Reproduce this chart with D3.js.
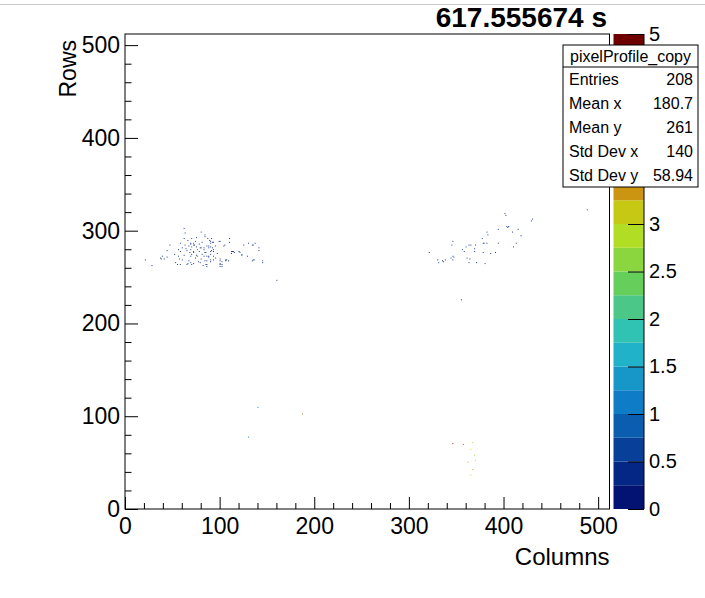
<!DOCTYPE html>
<html>
<head>
<meta charset="utf-8">
<script src="https://cdn.jsdelivr.net/npm/d3@7"></script>
<style>
  body { margin: 0; background: #fff; }
  text { font-family: "Liberation Sans", Arial, Helvetica, sans-serif; }
</style>
</head>
<body>
<svg id="chart" width="705" height="598"></svg>
<script>
// hits as [column, row, content]
const leftCluster = [
  [62,302,0.4],[63,297,0.4],[80,298,0.4],[84,295,0.7],[84,293,0.4],[47,284,0.4],[44,278,0.4],[39,272,0.4],
  [38,269,0.4],[41,269,0.4],[21,268,0.4],[28,262,0.4],[53,265,0.4],[56,272,0.7],[57,269,0.4],[58,263,0.4],
  [62,291,0.4],[58,277,0.4],[63,284,0.7],[67,283,0.4],[69,286,0.4],[72,286,0.7],[73,284,0.4],[69,279,0.4],
  [72,276,0.4],[76,279,0.7],[79,281,0.4],[83,279,0.4],[86,283,0.4],[70,274,0.4],[76,272,0.7],[81,274,0.4],
  [84,276,0.4],[90,277,0.4],[67,267,0.4],[69,265,0.7],[72,264,0.4],[79,265,0.4],[84,267,0.4],[90,268,0.4],
  [89,289,0.4],[91,291,0.4],[90,286,0.7],[93,287,0.4],[95,283,0.4],[93,279,0.4],[93,277,0.4],[90,274,0.4],
  [100,288,0.4],[105,284,0.4],[110,291,0.4],[110,287,0.4],[100,269,0.4],[100,267,0.4],[106,268,0.4],[109,267,0.4],
  [100,263,0.4],[102,261,0.4],[113,277,0.4],[115,276,0.4],[121,276,0.4],[123,274,0.4],[125,284,0.4],[130,286,0.4],
  [129,272,0.4],[135,284,0.4],[137,286,0.4],[141,281,0.4],[141,278,0.4],[134,267,0.4],[135,268,0.4],[145,267,0.7],
  [70,291,0.4],[69,285,0.4],[72,284,0.4],[70,282,0.7],[75,282,0.4],[80,281,0.4],[83,281,0.4],[88,283,0.4],
  [56,279,0.4],[60,281,0.4],[65,278,0.4],[72,277,0.4],[78,277,0.4],[85,276,0.4],[44,271,0.4],[37,270,0.4],
  [62,273,0.4],[69,272,0.4],[75,273,0.4],[83,272,0.4],[88,272,0.4],[66,264,0.4],[70,263,0.4],[86,263,0.4],
  [65,263,0.4],[55,263,0.4],[90,288,0.4],[92,287,0.4],[99,288,0.4],[90,282,0.4],[88,281,0.4],[91,278,0.4],
  [92,281,0.4],[104,283,0.4],[112,277,0.4],[114,277,0.4],[120,277,0.4],[112,275,0.4],[123,273,0.4],[86,272,0.4],
  [88,271,0.4],[93,272,0.4],[86,267,0.4],[90,266,0.4],[93,268,0.4],[102,266,0.4],[106,267,0.4],[107,268,0.4],
  [136,268,0.4],[145,265,0.4],[100,264,0.4],[102,263,0.4],[100,261,0.4],[85,263,0.4],[86,261,0.4],[134,284,0.4],
  [66,289,0.4],[74,288,0.4],[78,285,0.4],[81,287,0.4],[64,280,0.4],[68,276,0.4],[74,270,0.4],[80,269,0.4],
  [77,266,0.4],[60,268,0.4],[52,274,0.4],[95,270,0.4],[97,275,0.4],[75,292,0.4],[87,291,0.4],[58,286,0.4],
  [82,262,0.4]
];
const rightCluster = [
  [321,276,0.4],[330,268,0.4],[331,265,0.4],[335,267,0.4],[336,266,0.4],[338,268,0.4],[344,270,0.4],[346,272,0.7],
  [347,271,0.4],[346,268,0.4],[345,284,0.4],[346,288,0.4],[356,279,0.4],[358,277,0.4],[360,282,0.4],[363,284,0.4],
  [365,284,0.4],[370,284,0.4],[369,280,0.4],[369,277,0.4],[361,270,0.4],[364,269,0.4],[363,265,0.4],[371,265,0.4],
  [377,291,0.7],[378,286,0.4],[379,286,0.4],[378,276,0.4],[380,264,0.4],[382,298,0.4],[383,295,0.4],[382,286,0.4],
  [386,275,0.4],[391,276,0.4],[394,286,0.4],[394,301,0.4],[403,304,0.7],[405,304,0.4],[404,303,0.4],[401,318,0.4],
  [402,316,0.4],[409,298,0.4],[413,286,0.4],[410,282,0.4],[415,301,0.4],[418,294,0.4],[429,310,0.7],[430,312,0.4],
  [488,322,0.4]
];
const strayHits = [
  [160,246,0.4],[140,109,1.2],[130,77,1.0],[355,225,0.4],[187,102,3.6]
];
const bottomHits = [
  [346,70,4.6],[357,69,3.8],[367,71,3.2],[365,64,3.1],[369,57,2.7],[362,50,3.3],[370,52,3.0],[367,42,3.4],[365,36,3.2]
];

const xTicks = [0, 100, 200, 300, 400, 500];
const yTicks = [0, 100, 200, 300, 400, 500];
const zTicks = [0, 0.5, 1, 1.5, 2, 2.5, 3, 5];
const zTickLabels = ['0', '0.5', '1', '1.5', '2', '2.5', '3', '5'];

const statsName = 'pixelProfile_copy';
const statsLabels = ['Entries', 'Mean x', 'Mean y', 'Std Dev x', 'Std Dev y'];
const statsValues = ['208', '180.7', '261', '140', '58.94'];
const titleText = '617.555674 s';

// ROOT kRainBow palette stops
const paletteStops = [0, 0.125, 0.25, 0.375, 0.5, 0.625, 0.75, 0.875, 1];
const paletteRed   = [0, 5, 15, 35, 102, 196, 208, 199, 110];
const paletteGreen = [0, 48, 124, 192, 206, 226, 97, 16, 0];
const paletteBlue  = [99, 142, 198, 201, 90, 22, 13, 8, 2];

const nBins = 512;
const zMax = 5;
const nContours = 20;

const svg = d3.select('#chart');
const W = 705, H = 598;
const frame = { left: 125, right: 609.5, top: 34, bottom: 509 };

const x = d3.scaleLinear().domain([0, nBins]).range([frame.left, frame.right]);
const y = d3.scaleLinear().domain([0, nBins]).range([frame.bottom, frame.top]);
const z = d3.scaleLinear().domain([0, zMax]).range([frame.bottom, frame.top]);

const rgbScale = d3.scaleLinear()
  .domain(paletteStops)
  .range(paletteStops.map((_, i) => d3.rgb(paletteRed[i], paletteGreen[i], paletteBlue[i])))
  .interpolate(d3.interpolateRgb);

function bandColor(i) {
  return rgbScale(Math.min(1, (i + 0.99) / nContours));
}
function contentColor(v) {
  const i = Math.min(nContours - 1, Math.floor(v / zMax * nContours));
  return bandColor(i);
}

svg.append('rect').attr('width', W).attr('height', H).attr('fill', '#fff');

// thin line at top edge of canvas
svg.append('line')
  .attr('x1', 0).attr('x2', W).attr('y1', 4.5).attr('y2', 4.5)
  .attr('stroke', '#c8c8c8').attr('stroke-width', 1);

// bins
const hits = [...leftCluster, ...rightCluster, ...strayHits, ...bottomHits];
svg.append('g')
  .selectAll('rect')
  .data(hits)
  .enter()
  .append('rect')
  .attr('x', d => x(d[0]))
  .attr('y', d => y(d[1] + 1))
  .attr('width', d => x(d[0] + 1) - x(d[0]))
  .attr('height', d => y(d[1]) - y(d[1] + 1))
  .attr('fill', d => contentColor(d[2]));

// frame
svg.append('rect')
  .attr('x', frame.left).attr('y', frame.top)
  .attr('width', frame.right - frame.left).attr('height', frame.bottom - frame.top)
  .attr('fill', 'none').attr('stroke', '#000').attr('stroke-width', 1);

// x axis
const xMinor = d3.range(0, nBins + 1, 20).filter(v => v % 100 !== 0);
const xAxis = svg.append('g').attr('transform', `translate(0,${frame.bottom})`);
xAxis.call(d3.axisBottom(x).tickValues(xTicks).tickSizeInner(-12).tickSizeOuter(0).tickPadding(9));
xAxis.append('g').call(d3.axisBottom(x).tickValues(xMinor).tickSizeInner(-6).tickSizeOuter(0).tickFormat(''));
xAxis.selectAll('.domain').remove();
xAxis.selectAll('.tick line').attr('stroke', '#000');
xAxis.selectAll('.tick text').attr('font-size', 23).attr('fill', '#000')
  .attr('font-family', '"Liberation Sans", Arial, sans-serif');

// y axis
const yMinor = d3.range(0, nBins + 1, 20).filter(v => v % 100 !== 0);
const yAxis = svg.append('g').attr('transform', `translate(${frame.left},0)`);
yAxis.call(d3.axisLeft(y).tickValues(yTicks).tickSizeInner(-13).tickSizeOuter(0).tickPadding(5));
yAxis.append('g').call(d3.axisLeft(y).tickValues(yMinor).tickSizeInner(-6.5).tickSizeOuter(0).tickFormat(''));
yAxis.selectAll('.domain').remove();
yAxis.selectAll('.tick line').attr('stroke', '#000');
yAxis.selectAll('.tick text').attr('font-size', 23).attr('fill', '#000')
  .attr('font-family', '"Liberation Sans", Arial, sans-serif');

// axis titles
svg.append('text')
  .attr('x', frame.right).attr('y', 565)
  .attr('text-anchor', 'end').attr('font-size', 24)
  .text('Columns');
svg.append('text')
  .attr('transform', `translate(76,${frame.top + 6}) rotate(-90)`)
  .attr('text-anchor', 'end').attr('font-size', 23)
  .text('Rows');

// palette
const pal = { left: 613.5, right: 644 };
const bands = d3.range(nContours);
svg.append('g')
  .selectAll('rect')
  .data(bands)
  .enter()
  .append('rect')
  .attr('x', pal.left)
  .attr('y', i => z((i + 1) * zMax / nContours))
  .attr('width', pal.right - pal.left)
  .attr('height', i => z(i * zMax / nContours) - z((i + 1) * zMax / nContours))
  .attr('fill', i => bandColor(i));

const zAxis = svg.append('g').attr('transform', `translate(${pal.right},0)`);
zAxis.call(d3.axisRight(z).tickValues(zTicks).tickSizeInner(-16).tickSizeOuter(0).tickPadding(5)
  .tickFormat((d, i) => zTickLabels[i]));
zAxis.selectAll('.domain').remove();
zAxis.selectAll('.tick line').attr('stroke', '#000');
zAxis.selectAll('.tick text').attr('font-size', 20).attr('fill', '#000')
  .attr('font-family', '"Liberation Sans", Arial, sans-serif');
svg.append('line')
  .attr('x1', pal.right).attr('x2', pal.right).attr('y1', frame.top).attr('y2', frame.bottom)
  .attr('stroke', '#000');

// title
svg.append('text')
  .attr('x', 607).attr('y', 27)
  .attr('text-anchor', 'end').attr('font-size', 28).attr('font-weight', 'bold')
  .text(titleText);

// stats box
const stats = { x: 563, y: 45, w: 135, head: 22, row: 24 };
const sg = svg.append('g');
sg.append('rect')
  .attr('x', stats.x).attr('y', stats.y)
  .attr('width', stats.w).attr('height', stats.head + stats.row * statsLabels.length)
  .attr('fill', '#fff').attr('stroke', '#000');
sg.append('line')
  .attr('x1', stats.x).attr('x2', stats.x + stats.w)
  .attr('y1', stats.y + stats.head).attr('y2', stats.y + stats.head)
  .attr('stroke', '#000');
sg.append('text')
  .attr('x', stats.x + stats.w / 2).attr('y', stats.y + stats.head / 2)
  .attr('dy', '0.35em').attr('text-anchor', 'middle').attr('font-size', 16)
  .text(statsName);
statsLabels.forEach((label, i) => {
  const cy = stats.y + stats.head + stats.row * (i + 0.5);
  sg.append('text').attr('x', stats.x + 6).attr('y', cy).attr('dy', '0.35em')
    .attr('font-size', 16).text(label);
  sg.append('text').attr('x', stats.x + stats.w - 5).attr('y', cy).attr('dy', '0.35em')
    .attr('text-anchor', 'end').attr('font-size', 16).text(statsValues[i]);
});
</script>
</body>
</html>
